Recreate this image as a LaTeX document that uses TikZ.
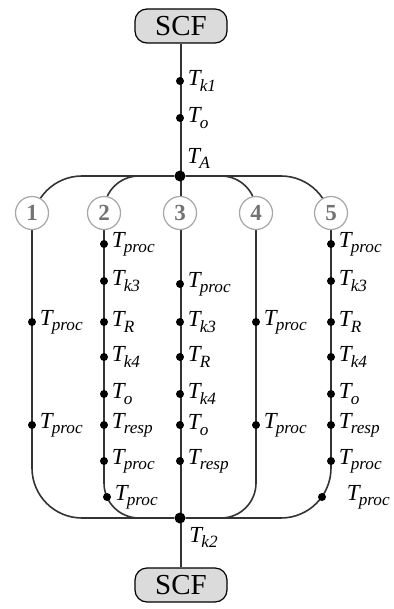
\documentclass[tikz,border=0pt]{standalone}
\usepackage{fontspec}
\setmainfont{Liberation Serif}
\usetikzlibrary{backgrounds,positioning}
\newcommand{\tlab}[1]{\textit{T\kern-0.4pt\raisebox{-0.5ex}{\fontsize{8.6}{9}\selectfont #1}}}

\begin{document}
\begin{tikzpicture}[x=0.5pt, y=-0.5pt,
		scf/.style={draw, rounded corners=6pt, fill=gray!28, line width=0.6pt,
			minimum width=46pt, minimum height=17pt, inner sep=0pt,
			font=\fontsize{14.5}{17}\selectfont},
		proc/.style={circle, draw=gray!70, fill=white, line width=0.6pt,
			minimum size=16.5pt, inner sep=0pt, text=black!55,
			font=\fontsize{11.5}{12}\selectfont\bfseries},
		dot/.style={circle, fill=black, minimum size=4pt, inner sep=0pt},
		hub/.style={dot, minimum size=5.5pt},
		wire/.style={draw=black!80, line width=0.8pt},
		every label/.style={font=\fontsize{11.5}{13}\selectfont, inner sep=1pt},
		label distance=0.5pt
	]
		\useasboundingbox (0,0) rectangle (393,609);
		\node[scf] (scftop) at (181,26) {SCF};
		\node[scf] (scfbot) at (181,585) {SCF};
		\node[hub, label={above right:\tlab{A}}] (TA) at (180,176) {};
		\node[hub, label={[label distance=2pt]below right:\tlab{k2}}] (Tk2) at (180,518) {};
		\node[dot, label={right:\tlab{k1}}] (Tk1) at (180,81) {};
		\node[dot, label={right:\tlab{o}}] (To) at (180,118) {};
		\foreach \x [count=\i] in {32,104,180,256,331}
			\node[proc] (c\i) at (\x,213) {\i};
		\begin{scope}[on background layer]
			\draw[wire] (scftop) -- (scfbot);
			\draw[wire, rounded corners=25pt] (TA) -| (c1 |- Tk2) -- (Tk2);
			\draw[wire, rounded corners=25pt] (TA) -| (c5 |- Tk2) -- (Tk2);
			\draw[wire, rounded corners=17.5pt] (TA) -| (c2 |- Tk2) -- (Tk2);
			\draw[wire, rounded corners=17.5pt] (TA) -| (c4 |- Tk2) -- (Tk2);
		\end{scope}
		\foreach \y in {322,425} {
			\node[dot, label={right:\tlab{proc}}] (a-\y) at (32,\y) {};
			\node[dot, label={right:\tlab{proc}}] (d-\y) at (256,\y) {};
		}
		\foreach \y/\s in {244/proc,281/k3,322/R,357/k4,394/o,425/resp,461/proc} {
			\node[dot, label={right:\tlab{\s}}] (b-\y) at (104,\y) {};
			\node[dot, label={right:\tlab{\s}}] (e-\y) at (331,\y) {};
		}
		\foreach \y/\s in {284/proc,322/k3,357/R,394/k4,425/o,461/resp}
			\node[dot, label={right:\tlab{\s}}] (m-\y) at (180,\y) {};
		\node[dot, label={right:\tlab{proc}}] (b-arc) at (107,497) {};
		\node[dot, label={[label distance=9pt]right:\tlab{proc}}] (e-arc) at (322,497) {};
	\end{tikzpicture}
\end{document}
